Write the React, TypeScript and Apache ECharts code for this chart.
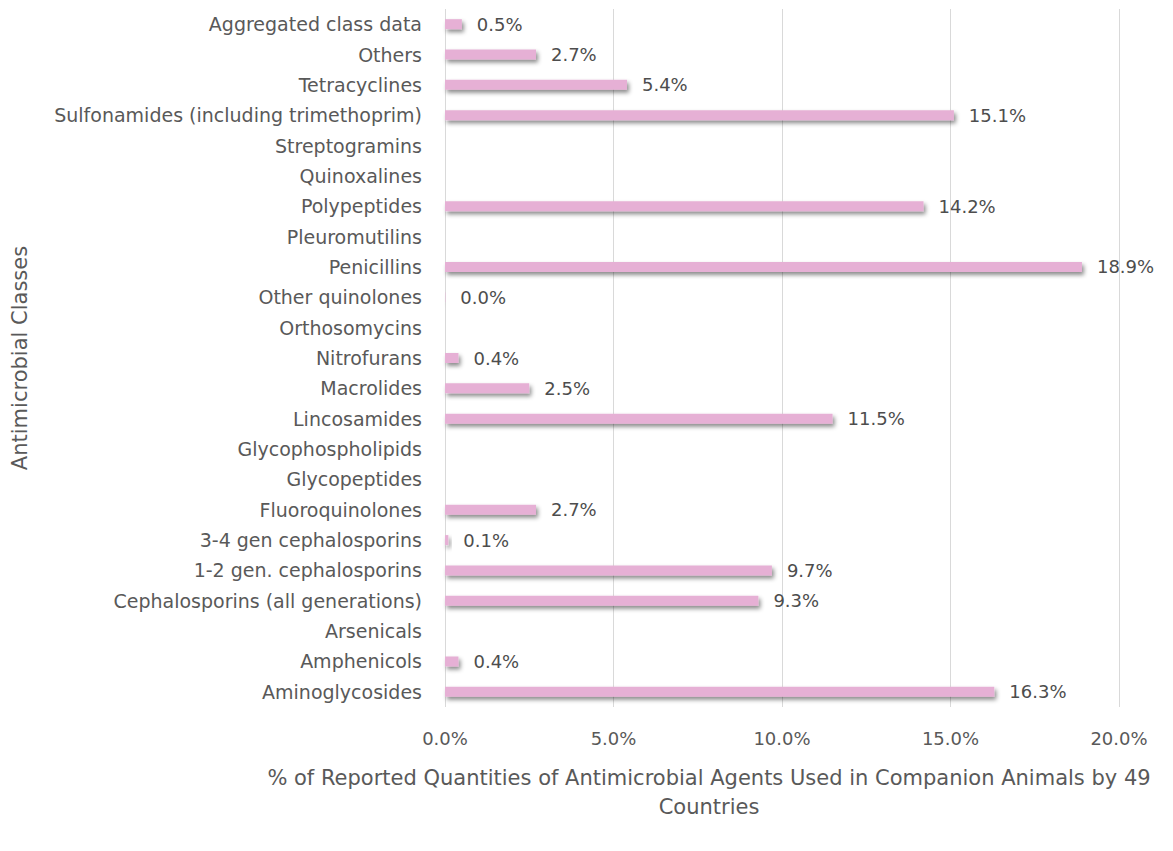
import React, { useEffect, useRef } from "react";
import * as echarts from "echarts";

const categories = [
  "Aminoglycosides",
  "Amphenicols",
  "Arsenicals",
  "Cephalosporins (all generations)",
  "1-2 gen. cephalosporins",
  "3-4 gen cephalosporins",
  "Fluoroquinolones",
  "Glycopeptides",
  "Glycophospholipids",
  "Lincosamides",
  "Macrolides",
  "Nitrofurans",
  "Orthosomycins",
  "Other quinolones",
  "Penicillins",
  "Pleuromutilins",
  "Polypeptides",
  "Quinoxalines",
  "Streptogramins",
  "Sulfonamides (including trimethoprim)",
  "Tetracyclines",
  "Others",
  "Aggregated class data",
];

const values: (number | null)[] = [
  16.3, 0.4, null, 9.3, 9.7, 0.1, 2.7, null, null, 11.5, 2.5, 0.4, null, 0.01,
  18.9, null, 14.2, null, null, 15.1, 5.4, 2.7, 0.5,
];

const xTicks = [0, 5, 10, 15, 20];

const FONT = "'DejaVu Sans'";
const TXT = "#595959";

export default function App() {
  const ref = useRef<HTMLDivElement>(null);
  useEffect(() => {
    if (!ref.current) return;
    const chart = echarts.init(ref.current, undefined, { renderer: "svg" });
    chart.setOption({
      animation: false,
      backgroundColor: "#ffffff",
      textStyle: { fontFamily: FONT },
      grid: { left: 445, right: 54, top: 9, bottom: 144, containLabel: false },
      xAxis: {
        type: "value",
        min: xTicks[0],
        max: xTicks[xTicks.length - 1],
        interval: 5,
        axisLine: { show: false },
        axisTick: { show: false },
        splitLine: { lineStyle: { color: "#d9d9d9", width: 1 } },
        axisLabel: {
          formatter: (v: number) => v.toFixed(1) + "%",
          color: TXT,
          fontSize: 18,
          fontFamily: FONT,
          margin: 22,
        },
      },
      yAxis: {
        type: "category",
        data: categories,
        axisLine: { show: false },
        axisTick: { show: false },
        axisLabel: { color: TXT, fontSize: 19, fontFamily: FONT, margin: 23 },
      },
      series: [
        {
          type: "bar",
          data: values,
          barWidth: 10,
          itemStyle: {
            color: "#e6b0d5",
            shadowColor: "rgba(0,0,0,0.45)",
            shadowBlur: 4,
            shadowOffsetX: 2,
            shadowOffsetY: 3,
          },
          label: {
            show: true,
            position: "right",
            distance: 15,
            color: "#4d4d4d",
            fontSize: 18,
            fontFamily: FONT,
            formatter: (p: any) => (p.value == null ? "" : Number(p.value).toFixed(1) + "%"),
          },
        },
      ],
      graphic: [
        {
          type: "text",
          x: 20,
          y: 358,
          rotation: Math.PI / 2,
          style: {
            text: "Antimicrobial Classes",
            fill: TXT,
            font: `21px ${FONT}`,
            textAlign: "center",
            textVerticalAlign: "middle",
          },
        },
        {
          type: "text",
          x: 709,
          y: 778,
          style: {
            text: "% of Reported Quantities of Antimicrobial Agents Used in Companion Animals by 49",
            fill: TXT,
            font: `21px ${FONT}`,
            textAlign: "center",
            textVerticalAlign: "middle",
          },
        },
        {
          type: "text",
          x: 709,
          y: 807,
          style: {
            text: "Countries",
            fill: TXT,
            font: `21px ${FONT}`,
            textAlign: "center",
            textVerticalAlign: "middle",
          },
        },
      ],
    });
    return () => chart.dispose();
  }, []);
  return (
    <div
      ref={ref}
      style={{ position: "absolute", left: 0, top: 0, width: 1173, height: 851 }}
    />
  );
}
